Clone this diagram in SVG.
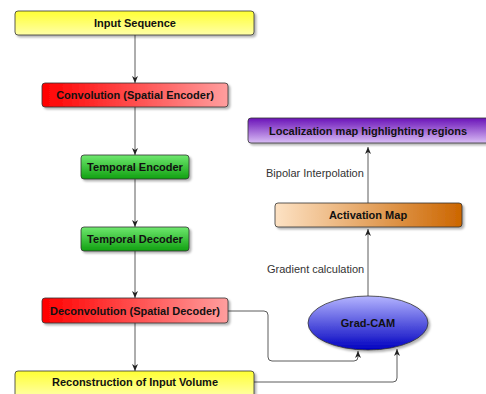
<svg xmlns="http://www.w3.org/2000/svg" width="486" height="394" viewBox="0 0 486 394">
<defs>
<linearGradient id="gYellow" x1="0" y1="0" x2="0" y2="1"><stop offset="0" stop-color="#ffff33"/><stop offset="1" stop-color="#ffffa8"/></linearGradient>
<linearGradient id="gRed" x1="0" y1="0" x2="1" y2="0"><stop offset="0" stop-color="#ff0000"/><stop offset="1" stop-color="#ff9e9e"/></linearGradient>
<linearGradient id="gGreen" x1="0" y1="0" x2="0" y2="1"><stop offset="0" stop-color="#6fe86f"/><stop offset="1" stop-color="#10a010"/></linearGradient>
<linearGradient id="gPurple" x1="0" y1="0" x2="0" y2="1"><stop offset="0" stop-color="#6a11b8"/><stop offset="1" stop-color="#d9bdf5"/></linearGradient>
<linearGradient id="gOrange" x1="0" y1="0" x2="1" y2="0"><stop offset="0" stop-color="#fde2c4"/><stop offset="1" stop-color="#cc6600"/></linearGradient>
<linearGradient id="gBlue" x1="0" y1="0" x2="0" y2="1"><stop offset="0" stop-color="#b4b4ff"/><stop offset="1" stop-color="#0000c0"/></linearGradient>
<filter id="sh" x="-10%" y="-20%" width="130%" height="160%"><feDropShadow dx="2" dy="2" stdDeviation="1.2" flood-color="#000" flood-opacity="0.3"/></filter>
<marker id="ah" markerWidth="8" markerHeight="8" refX="7" refY="4" orient="auto" markerUnits="userSpaceOnUse"><path d="M0,1 L7,4 L0,7 L2,4 Z" fill="#222"/></marker>
</defs>
<style>
.box{stroke:#333;stroke-width:0.8;filter:url(#sh)}
.t{font-family:"Liberation Sans",Arial,sans-serif;font-size:11px;font-weight:bold;fill:#111;text-anchor:middle}
.lbl{font-family:"Liberation Sans",Arial,sans-serif;font-size:11px;fill:#333}
.c{fill:none;stroke:#333;stroke-width:0.8;marker-end:url(#ah)}
</style>
<g id="connectors">
<path class="c" d="M135,35 V83"/>
<path class="c" d="M135,107 V155"/>
<path class="c" d="M135,179 V227"/>
<path class="c" d="M135,251 V298"/>
<path class="c" d="M135,323 V371"/>
<path class="c" d="M228,311 H264 Q268,311 268,315 V357 Q268,361 272,361 H354 Q358,361 358,357 V351"/>
<path class="c" d="M254,382 H393 Q397,382 397,378 V349"/>
<path class="c" d="M368,296 V229"/>
<path class="c" d="M368,203 V147"/>
<text class="lbl" x="267" y="273">Gradient calculation</text>
<text class="lbl" x="266" y="177">Bipolar Interpolation</text>
</g>
<g id="input"><rect class="box" x="15" y="11" width="239" height="24" rx="3" fill="url(#gYellow)"/><text class="t" x="135" y="27">Input Sequence</text></g>
<g id="conv"><rect class="box" x="42" y="83" width="186" height="24" rx="3" fill="url(#gRed)"/><text class="t" x="135" y="99">Convolution (Spatial Encoder)</text></g>
<g id="tenc"><rect class="box" x="81" y="155" width="108" height="24" rx="3" fill="url(#gGreen)"/><text class="t" x="135" y="171">Temporal Encoder</text></g>
<g id="tdec"><rect class="box" x="81" y="227" width="108" height="24" rx="3" fill="url(#gGreen)"/><text class="t" x="135" y="243">Temporal Decoder</text></g>
<g id="deconv"><rect class="box" x="42" y="298" width="186" height="25" rx="3" fill="url(#gRed)"/><text class="t" x="135" y="315">Deconvolution (Spatial Decoder)</text></g>
<g id="recon"><rect class="box" x="15" y="371" width="239" height="26" rx="3" fill="url(#gYellow)"/><text class="t" x="135" y="386">Reconstruction of Input Volume</text></g>
<g id="loc"><rect class="box" x="248" y="118" width="242" height="25" rx="3" fill="url(#gPurple)"/><text class="t" x="368" y="135">Localization map highlighting regions</text></g>
<g id="act"><rect class="box" x="275" y="203" width="187" height="24" rx="3" fill="url(#gOrange)"/><text class="t" x="368" y="219">Activation Map</text></g>
<g id="gradcam"><ellipse class="box" cx="368" cy="323" rx="60" ry="27" fill="url(#gBlue)"/><text class="t" x="368" y="327">Grad-CAM</text></g>
</svg>
